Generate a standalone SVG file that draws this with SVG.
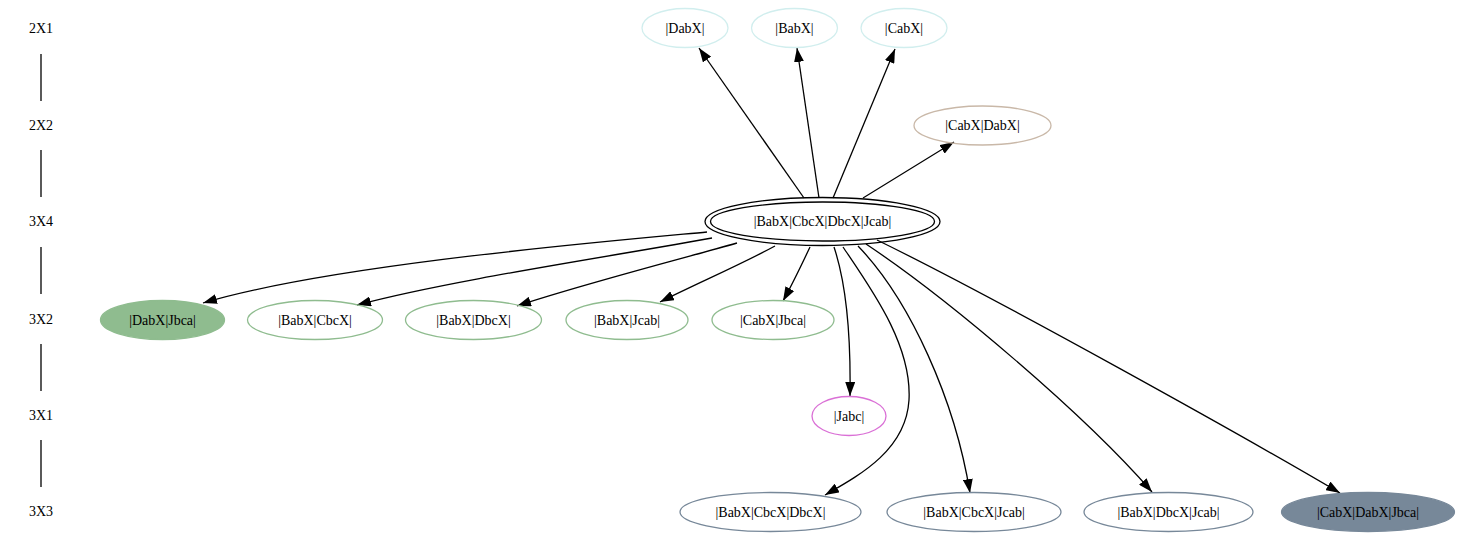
<svg xmlns="http://www.w3.org/2000/svg" width="1460" height="541" viewBox="0 0 1460 541">
<defs>
<marker id="arr" markerUnits="userSpaceOnUse" markerWidth="14" markerHeight="10" refX="14" refY="5" orient="auto">
<path d="M0,0 L14,5 L0,10 z" fill="#000"/>
</marker>
</defs>
<style>
text { font-family: "Liberation Serif", "Times New Roman", serif; font-size: 14px; fill: #000; text-anchor: middle; dominant-baseline: central; }
.n1 { fill: none; stroke: #d1eeee; stroke-width: 1.3; }
.n2 { fill: none; stroke: #c9b8a8; stroke-width: 1.3; }
.n3 { fill: none; stroke: #000; stroke-width: 1.3; }
.n4 { fill: none; stroke: #8fbc8f; stroke-width: 1.3; }
.n4f { fill: #8fbc8f; stroke: #8fbc8f; stroke-width: 1.3; }
.n5 { fill: none; stroke: #da70d6; stroke-width: 1.3; }
.n6 { fill: none; stroke: #778899; stroke-width: 1.3; }
.n6f { fill: #778899; stroke: #778899; stroke-width: 1.3; }
.e { fill: none; stroke: #000; stroke-width: 1.3; marker-end: url(#arr); }
.rank { stroke: #000; stroke-width: 1.3; }
</style>
<rect width="1460" height="541" fill="#fff"/>

<g id="ranks">
<text x="41" y="28">2X1</text>
<text x="41" y="125">2X2</text>
<text x="41" y="221">3X4</text>
<text x="41" y="319">3X2</text>
<text x="41" y="415">3X1</text>
<text x="41" y="511">3X3</text>
<line class="rank" x1="41" y1="54" x2="41" y2="101"/>
<line class="rank" x1="41" y1="150" x2="41" y2="197"/>
<line class="rank" x1="41" y1="247" x2="41" y2="294"/>
<line class="rank" x1="41" y1="344" x2="41" y2="391"/>
<line class="rank" x1="41" y1="440" x2="41" y2="487"/>
</g>

<g id="edges">
<path class="e" d="M804,198 L699,48"/>
<path class="e" d="M819,198 L797,48"/>
<path class="e" d="M833,198 L895,49"/>
<path class="e" d="M863,198 L954,142"/>
<path class="e" d="M707,232 C600,242 330,265 203,303"/>
<path class="e" d="M712,238 C620,255 450,280 357,305"/>
<path class="e" d="M737,243 C670,262 580,285 517,306"/>
<path class="e" d="M775,246 C740,265 700,282 660,302"/>
<path class="e" d="M810,247 C802,264 793,283 783,301"/>
<path class="e" d="M834,247 C845,280 851,330 850,396"/>
<path class="e" d="M843,247 C872,290 912,345 909,400 C906,450 860,475 825,495"/>
<path class="e" d="M858,246 C910,300 955,400 970,493"/>
<path class="e" d="M866,244 C950,300 1085,415 1152,492"/>
<path class="e" d="M877,240 C1000,300 1250,440 1340,493"/>
</g>

<g id="n_DabX">
<ellipse class="n1" cx="685" cy="28" rx="43" ry="19.5"/>
<text x="685" y="28">|DabX|</text>
</g>
<g id="n_BabX">
<ellipse class="n1" cx="794.5" cy="28" rx="43" ry="19.5"/>
<text x="794.5" y="28">|BabX|</text>
</g>
<g id="n_CabX">
<ellipse class="n1" cx="904" cy="28" rx="43" ry="19.5"/>
<text x="904" y="28">|CabX|</text>
</g>
<g id="n_CabX_DabX">
<ellipse class="n2" cx="982.5" cy="125.5" rx="68.5" ry="19.5"/>
<text x="982.5" y="125.5">|CabX|DabX|</text>
</g>
<g id="n_center">
<ellipse class="n3" cx="822.5" cy="221.5" rx="117.5" ry="24"/>
<ellipse class="n3" cx="822.5" cy="221.5" rx="112" ry="19.5"/>
<text x="822.5" y="221.5">|BabX|CbcX|DbcX|Jcab|</text>
</g>
<g id="n_DabX_Jbca">
<ellipse class="n4f" cx="162.5" cy="320" rx="62" ry="19.5"/>
<text x="162.5" y="320">|DabX|Jbca|</text>
</g>
<g id="n_BabX_CbcX">
<ellipse class="n4" cx="315" cy="320" rx="67.5" ry="19.5"/>
<text x="315" y="320">|BabX|CbcX|</text>
</g>
<g id="n_BabX_DbcX">
<ellipse class="n4" cx="473.5" cy="320" rx="68" ry="19.5"/>
<text x="473.5" y="320">|BabX|DbcX|</text>
</g>
<g id="n_BabX_Jcab">
<ellipse class="n4" cx="627" cy="320" rx="61" ry="19.5"/>
<text x="627" y="320">|BabX|Jcab|</text>
</g>
<g id="n_CabX_Jbca">
<ellipse class="n4" cx="773" cy="320" rx="61" ry="19.5"/>
<text x="773" y="320">|CabX|Jbca|</text>
</g>
<g id="n_Jabc">
<ellipse class="n5" cx="849" cy="416" rx="37" ry="19.5"/>
<text x="849" y="416">|Jabc|</text>
</g>
<g id="n_BabX_CbcX_DbcX">
<ellipse class="n6" cx="770.5" cy="512" rx="90.5" ry="19.5"/>
<text x="770.5" y="512">|BabX|CbcX|DbcX|</text>
</g>
<g id="n_BabX_CbcX_Jcab">
<ellipse class="n6" cx="974" cy="512" rx="87" ry="19.5"/>
<text x="974" y="512">|BabX|CbcX|Jcab|</text>
</g>
<g id="n_BabX_DbcX_Jcab">
<ellipse class="n6" cx="1168.5" cy="512" rx="84.5" ry="19.5"/>
<text x="1168.5" y="512">|BabX|DbcX|Jcab|</text>
</g>
<g id="n_CabX_DabX_Jbca">
<ellipse class="n6f" cx="1368" cy="512" rx="86.5" ry="19.5"/>
<text x="1368" y="512">|CabX|DabX|Jbca|</text>
</g>
</svg>
